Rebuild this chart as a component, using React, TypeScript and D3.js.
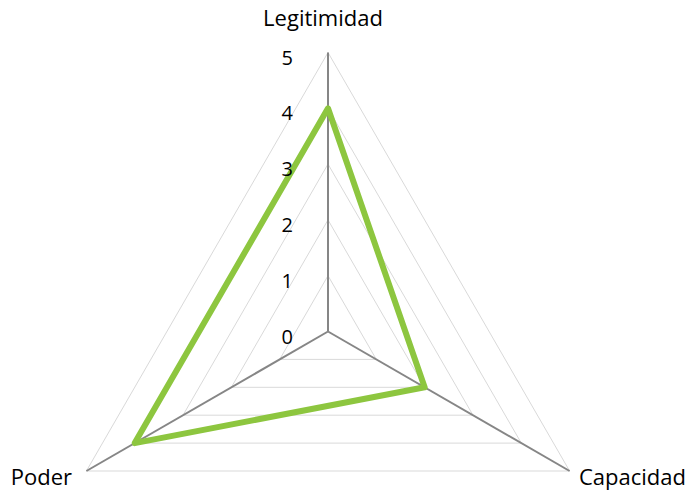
import * as d3 from "d3";

const axes = ["Legitimidad", "Capacidad", "Poder"];
const values = [4, 2, 4];
const ticks = [0, 1, 2, 3, 4, 5];

export default function App() {
  const w = 692,
    h = 495;
  const cx = 328,
    cy = 331.5,
    R = 279;
  const r = d3.scaleLinear().domain([0, 5]).range([0, R]);
  const angle = (i: number) => (i * 2 * Math.PI) / axes.length;
  const pt = (i: number, v: number): [number, number] => [
    cx + r(v) * Math.sin(angle(i)),
    cy - r(v) * Math.cos(angle(i)),
  ];

  const line = d3.line().curve(d3.curveLinearClosed);
  const font = "'Open Sans', sans-serif";

  return (
    <svg
      width={w}
      height={h}
      style={{ position: "absolute", left: 0, top: 0, background: "#fff" }}
    >
      {ticks.slice(1).map((t) => (
        <path
          key={t}
          d={line(axes.map((_, i) => pt(i, t))) || ""}
          fill="none"
          stroke="#d9d9d9"
          strokeWidth={1}
        />
      ))}
      {axes.map((_, i) => {
        const [x2, y2] = pt(i, 5);
        return (
          <line key={i} x1={cx} y1={cy} x2={x2} y2={y2} stroke="#868686" strokeWidth={2} />
        );
      })}
      <path
        d={line(values.map((v, i) => pt(i, v))) || ""}
        fill="none"
        stroke="#8dc63f"
        strokeWidth={6}
        strokeLinejoin="round"
      />
      {ticks.map((t) => (
        <text
          key={t}
          x={cx - 35}
          y={cy - r(t) + 12}
          textAnchor="end"
          fontFamily={font}
          fontSize={20}
          fill="#000"
        >
          {t}
        </text>
      ))}
      <text x={323} y={26} textAnchor="middle" fontFamily={font} fontSize={22} fill="#000">
        {axes[0]}
      </text>
      <text x={579} y={485} textAnchor="start" fontFamily={font} fontSize={22} fill="#000">
        {axes[1]}
      </text>
      <text x={72} y={485} textAnchor="end" fontFamily={font} fontSize={22} fill="#000">
        {axes[2]}
      </text>
    </svg>
  );
}
